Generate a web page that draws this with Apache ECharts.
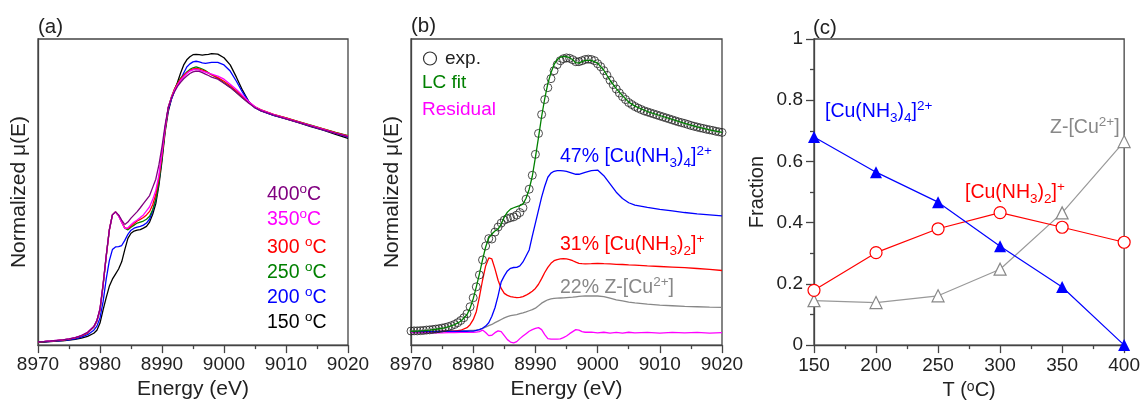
<!DOCTYPE html>
<html><head><meta charset="utf-8">
<script src="https://cdn.jsdelivr.net/npm/echarts@6/dist/echarts.min.js"></script>
<style>html,body{margin:0;padding:0;background:#fff}#c{width:1143px;height:405px}</style>
</head><body><div id="c"></div>
<script>
// ---------- shared energy grid for panel (a) curves and (b) fit/components ----------
const E_GRID = [8970,8971,8972,8973,8974,8975,8976,8977,8978,8979,
 8979.5,8980,8980.5,8981,8981.5,8982,8982.5,8983,8983.5,8984,
 8984.5,8985,8985.5,8986,8986.5,8987,8987.5,8988,8988.5,8989,
 8989.5,8990,8990.5,8991,8991.5,8992,8992.5,8993,8993.5,8994,
 8994.5,8995,8995.5,8996,8996.5,8997,8997.5,8998,8999,9000,
 9001,9002,9003,9004,9005,9006,9008,9010,9012,9014,
 9016,9018,9020];

// ---------- panel (a): temperature series ----------
const T150 = [0.000,0.002,0.004,0.006,0.008,0.011,0.015,0.021,0.030,0.045,
 0.060,0.095,0.160,0.220,0.275,0.310,0.335,0.360,0.395,0.455,
 0.510,0.535,0.546,0.550,0.553,0.560,0.569,0.590,0.628,0.680,
 0.770,0.890,1.030,1.130,1.190,1.235,1.275,1.320,1.360,1.385,
 1.400,1.410,1.412,1.410,1.408,1.410,1.412,1.415,1.413,1.395,
 1.360,1.300,1.235,1.180,1.150,1.135,1.113,1.095,1.077,1.058,
 1.040,1.020,1.000];
const T200 = [0.002,0.003,0.005,0.007,0.010,0.013,0.018,0.026,0.038,0.060,
 0.080,0.120,0.200,0.310,0.400,0.455,0.468,0.470,0.475,0.500,
 0.530,0.550,0.560,0.565,0.569,0.575,0.585,0.605,0.645,0.700,
 0.790,0.915,1.050,1.140,1.190,1.230,1.260,1.290,1.320,1.350,
 1.365,1.375,1.378,1.375,1.370,1.368,1.370,1.372,1.372,1.360,
 1.330,1.280,1.225,1.180,1.150,1.135,1.113,1.097,1.079,1.060,
 1.042,1.024,1.006];
const T250 = [0.003,0.004,0.006,0.009,0.012,0.016,0.022,0.032,0.047,0.075,
 0.105,0.160,0.280,0.420,0.550,0.625,0.640,0.622,0.590,0.560,
 0.552,0.565,0.575,0.585,0.590,0.595,0.604,0.618,0.650,0.700,
 0.785,0.905,1.040,1.150,1.200,1.240,1.270,1.295,1.310,1.325,
 1.338,1.346,1.350,1.345,1.340,1.332,1.322,1.312,1.295,1.272,
 1.250,1.225,1.198,1.175,1.153,1.138,1.117,1.100,1.082,1.065,
 1.047,1.030,1.014];
const T300 = [0.003,0.004,0.006,0.009,0.012,0.016,0.022,0.032,0.047,0.075,
 0.105,0.160,0.280,0.420,0.550,0.625,0.640,0.622,0.590,0.562,
 0.558,0.570,0.583,0.595,0.603,0.612,0.625,0.642,0.675,0.725,
 0.805,0.920,1.045,1.150,1.200,1.240,1.268,1.290,1.308,1.322,
 1.333,1.340,1.342,1.340,1.335,1.328,1.320,1.312,1.298,1.280,
 1.258,1.232,1.205,1.178,1.155,1.140,1.118,1.100,1.082,1.064,
 1.046,1.028,1.012];
const T350 = [0.004,0.005,0.007,0.010,0.013,0.017,0.024,0.034,0.050,0.078,
 0.108,0.165,0.285,0.425,0.550,0.625,0.640,0.620,0.588,0.558,
 0.562,0.577,0.590,0.600,0.612,0.625,0.645,0.665,0.700,0.745,
 0.820,0.930,1.050,1.150,1.198,1.235,1.262,1.285,1.302,1.318,
 1.330,1.336,1.338,1.335,1.330,1.325,1.320,1.315,1.305,1.290,
 1.265,1.240,1.210,1.180,1.155,1.138,1.116,1.098,1.080,1.062,
 1.044,1.026,1.010];
const T400 = [0.004,0.005,0.007,0.010,0.013,0.017,0.024,0.034,0.050,0.078,
 0.108,0.165,0.285,0.425,0.550,0.625,0.640,0.625,0.600,0.578,
 0.590,0.609,0.625,0.641,0.660,0.680,0.700,0.720,0.760,0.800,
 0.870,0.960,1.065,1.150,1.195,1.228,1.255,1.275,1.292,1.306,
 1.318,1.326,1.330,1.328,1.322,1.315,1.308,1.300,1.290,1.270,
 1.250,1.225,1.198,1.172,1.150,1.135,1.114,1.096,1.078,1.060,
 1.042,1.024,1.008];

// ---------- panel (b): LC fit ----------
const E_EXP = [8970,8970.5,8971,8971.5,8972,8972.5,8973,8973.5,8974,8974.5,
 8975,8975.5,8976,8976.5,8977,8977.5,8978,8978.5,8979,8979.5,
 8980,8980.5,8981,8981.5,8982,8982.5,8983,8983.5,8984,8984.5,
 8985,8985.5,8986,8986.5,8987,8987.5,8988,8988.5,8989,8989.5,
 8990,8990.5,8991,8991.5,8992,8992.5,8993,8993.5,8994,8994.5,
 8995,8995.5,8996,8996.5,8997,8997.5,8998,8998.5,8999,8999.5,
 9000,9000.5,9001,9001.5,9002,9002.5,9003,9003.5,9004,9004.5,
 9005,9005.5,9006,9006.5,9007,9007.5,9008,9008.5,9009,9009.5,
 9010,9010.5,9011,9011.5,9012,9012.5,9013,9013.5,9014,9014.5,
 9015,9015.5,9016,9016.5,9017,9017.5,9018,9018.5,9019,9019.5,
 9020];
const EXP_B = [0.003,0.004,0.004,0.005,0.006,0.008,0.009,0.011,0.013,0.015,
 0.018,0.021,0.025,0.030,0.036,0.045,0.056,0.070,0.090,0.125,
 0.170,0.225,0.285,0.360,0.430,0.467,0.465,0.500,0.525,0.545,
 0.560,0.567,0.572,0.576,0.585,0.598,0.622,0.665,0.715,0.785,
 0.890,0.995,1.090,1.165,1.225,1.270,1.310,1.340,1.360,1.370,
 1.374,1.372,1.365,1.355,1.355,1.360,1.366,1.368,1.366,1.360,
 1.345,1.330,1.310,1.287,1.262,1.240,1.218,1.198,1.180,1.165,
 1.150,1.140,1.130,1.122,1.115,1.108,1.103,1.098,1.093,1.088,
 1.083,1.078,1.073,1.068,1.063,1.058,1.053,1.049,1.045,1.040,
 1.035,1.031,1.027,1.023,1.020,1.016,1.013,1.010,1.006,1.003,
 1.000];
const FIT_B = [0.002,0.003,0.005,0.008,0.012,0.017,0.024,0.035,0.052,0.085,
 0.118,0.165,0.225,0.290,0.360,0.425,0.470,0.490,0.505,0.515,
 0.540,0.575,0.600,0.615,0.622,0.628,0.633,0.640,0.670,0.715,
 0.780,0.875,0.975,1.080,1.170,1.245,1.300,1.340,1.365,1.378,
 1.382,1.380,1.375,1.365,1.350,1.348,1.355,1.362,1.362,1.348,
 1.312,1.262,1.220,1.185,1.152,1.132,1.105,1.085,1.065,1.046,
 1.028,1.013,1.000];
const CU_NH34_B = [0.000,0.000,0.000,0.000,0.000,0.001,0.001,0.001,0.002,0.002,
 0.003,0.003,0.006,0.010,0.017,0.028,0.045,0.077,0.120,0.180,
 0.250,0.280,0.305,0.318,0.322,0.323,0.330,0.350,0.380,0.410,
 0.480,0.545,0.610,0.675,0.730,0.775,0.796,0.805,0.808,0.808,
 0.807,0.805,0.800,0.795,0.790,0.790,0.795,0.800,0.808,0.811,
 0.783,0.742,0.700,0.668,0.647,0.635,0.624,0.614,0.606,0.598,
 0.591,0.586,0.581];
const CU_NH32_B = [0.000,0.000,0.000,0.000,0.000,0.001,0.002,0.003,0.007,0.020,
 0.035,0.060,0.100,0.175,0.258,0.330,0.370,0.365,0.315,0.258,
 0.217,0.192,0.182,0.176,0.173,0.171,0.172,0.176,0.183,0.192,
 0.203,0.217,0.238,0.266,0.297,0.323,0.343,0.356,0.362,0.365,
 0.366,0.365,0.362,0.356,0.349,0.343,0.341,0.340,0.341,0.343,
 0.341,0.340,0.338,0.337,0.335,0.334,0.330,0.327,0.324,0.321,
 0.317,0.313,0.307];
const Z_CU_B = [0.003,0.003,0.003,0.003,0.004,0.004,0.004,0.005,0.005,0.005,
 0.006,0.006,0.008,0.010,0.016,0.023,0.030,0.036,0.045,0.053,
 0.061,0.069,0.075,0.080,0.083,0.085,0.090,0.094,0.099,0.105,
 0.111,0.118,0.130,0.143,0.152,0.160,0.164,0.167,0.168,0.169,
 0.170,0.171,0.172,0.173,0.175,0.177,0.178,0.179,0.180,0.179,
 0.176,0.168,0.160,0.154,0.148,0.144,0.138,0.133,0.130,0.127,
 0.125,0.123,0.122];
const RESID_B = [-0.005,-0.006,-0.005,-0.006,-0.005,-0.006,-0.005,-0.005,-0.004,-0.004,
 -0.003,-0.003,-0.002,0.000,0.008,-0.004,-0.020,-0.018,-0.005,0.004,
 0.000,-0.020,-0.040,-0.052,-0.056,-0.050,-0.035,-0.022,-0.010,0.002,
 0.010,0.016,0.020,0.010,-0.015,-0.035,-0.038,-0.038,-0.037,-0.036,
 -0.030,-0.022,-0.010,0.000,0.010,0.008,0.000,-0.003,-0.002,-0.006,
 -0.003,-0.007,-0.004,-0.007,-0.003,-0.006,-0.004,-0.007,-0.004,-0.006,
 -0.004,-0.007,-0.005];

// ---------- panel (c): fractions ----------
const TEMPS = [150,200,250,300,350,400];
const FRAC_CU_NH34 = [0.680,0.565,0.467,0.323,0.190,0.000];
const FRAC_CU_NH32 = [0.179,0.302,0.380,0.433,0.385,0.336];
const FRAC_Z_CU = [0.145,0.139,0.161,0.248,0.432,0.665];

const LEGEND_A = [
  {label:'{n|400}{s|o}{n|C}', color:'#800080'},
  {label:'{n|350}{s|o}{n|C}', color:'#ff00ff'},
  {label:'{n|300 }{s|o}{n|C}', color:'#ff0000'},
  {label:'{n|250 }{s|o}{n|C}', color:'#008000'},
  {label:'{n|200 }{s|o}{n|C}', color:'#0000ff'},
  {label:'{n|150 }{s|o}{n|C}', color:'#000000'}
];

const FONT = '"Liberation Sans", Arial, sans-serif';
const FS = 19.5, FSS = 13.5, FT = 21, FT_C = 20;
const RICH = {
  n:{fontFamily:FONT, fontSize:FS, lineHeight:26},
  s:{fontFamily:FONT, fontSize:FSS, lineHeight:14, verticalAlign:'top'},
  sp:{fontFamily:FONT, fontSize:FSS, lineHeight:14, verticalAlign:'top'},
  sb:{fontFamily:FONT, fontSize:FSS, lineHeight:12, verticalAlign:'bottom'}
};
const RICH_T = {
  s:{fontFamily:FONT, fontSize:14, lineHeight:14, verticalAlign:'top', color:'#222'}
};
const AX = '#444', TXT = '#222';
const plain = v => String(v);

const pairs = (xs, ys) => xs.map((x,i)=>[x, ys[i]]);

function energyAxis(gi){
  return {type:'value', gridIndex:gi, min:8970, max:9020, interval:10,
    name:'Energy (eV)', nameLocation:'middle', nameGap:30,
    nameTextStyle:{fontFamily:FONT, fontSize:FT, color:TXT},
    axisLine:{show:true, onZero:false, lineStyle:{color:AX, width:1.3}},
    axisTick:{show:true, inside:false, length:8, lineStyle:{color:AX, width:1.3}},
    minorTick:{show:true, splitNumber:2, length:4, lineStyle:{color:AX, width:1.3}},
    axisLabel:{fontFamily:FONT, fontSize:19, color:TXT, margin:10, formatter:plain},
    splitLine:{show:false}};
}
function muAxis(gi, mn, mx){
  return {type:'value', gridIndex:gi, min:mn, max:mx,
    name:'Normalized μ(E)', nameLocation:'middle', nameGap:8,
    nameTextStyle:{fontFamily:FONT, fontSize:FT, color:TXT},
    axisLine:{show:true, onZero:false, lineStyle:{color:AX, width:1.3}},
    axisTick:{show:false}, axisLabel:{show:false}, splitLine:{show:false}};
}
function lineA(name, ys, color){
  return {name, type:'line', xAxisIndex:0, yAxisIndex:0, data:pairs(E_GRID, ys),
    showSymbol:false, lineStyle:{color, width:1.3}, itemStyle:{color}, z:3};
}
function lineB(name, ys, color, z){
  return {name, type:'line', xAxisIndex:1, yAxisIndex:1, data:pairs(E_GRID, ys),
    showSymbol:false, lineStyle:{color, width:1.3}, itemStyle:{color}, z:z||3};
}
function txt(x, y, text, color, fs){
  return {type:'text', x, y, silent:true, z:10,
    style:{text, fill:color, fontFamily:FONT, fontSize:fs||FS, align:'left', verticalAlign:'middle', rich:RICH}};
}

const graphics = [
  txt(38, 27, '(a)', TXT, 20.5),
  txt(411, 26, '(b)', TXT, 20.5),
  txt(813, 28, '(c)', TXT, 20.5),
  {type:'circle', shape:{cx:430, cy:58.5, r:6.5}, style:{fill:'none', stroke:'#333', lineWidth:1.2}, z:10},
  txt(445, 59, 'exp.', TXT, 19),
  txt(422, 83, 'LC fit', '#008000', 19),
  txt(422, 110, 'Residual', '#ff00ff', 19),
  txt(560, 157, '{n|47% [Cu(NH}{sb|3}{n|)}{sb|4}{n|]}{sp|2+}', '#0000ff'),
  txt(560, 245, '{n|31% [Cu(NH}{sb|3}{n|)}{sb|2}{n|]}{sp|+}', '#ff0000'),
  txt(560, 288, '{n|22% Z-[Cu}{sp|2+}{n|]}', '#888888'),
  txt(825, 112, '{n|[Cu(NH}{sb|3}{n|)}{sb|4}{n|]}{sp|2+}', '#0000ff'),
  txt(1050, 128, '{n|Z-[Cu}{sp|2+}{n|]}', '#888888'),
  txt(965, 193, '{n|[Cu(NH}{sb|3}{n|)}{sb|2}{n|]}{sp|+}', '#ff0000')
];
const legendY = [195, 220, 248, 273, 298, 323];
LEGEND_A.forEach((l,i)=>graphics.push(txt(267, legendY[i], l.label, l.color)));

const option = {
  backgroundColor:'#fff', animation:false,
  textStyle:{fontFamily:FONT},
  grid:[
    {left:38, top:39, width:310, height:312, show:true, borderColor:AX, borderWidth:1.3, backgroundColor:'transparent'},
    {left:411, top:39, width:311, height:312, show:true, borderColor:AX, borderWidth:1.3, backgroundColor:'transparent'},
    {left:814, top:39, width:314, height:314, show:true, borderColor:AX, borderWidth:1.3, backgroundColor:'transparent'}
  ],
  xAxis:[
    energyAxis(0), energyAxis(1),
    {type:'value', gridIndex:2, min:150, max:400, interval:50,
     name:'T ({s|o}C)', nameLocation:'middle', nameGap:30,
     nameTextStyle:{fontFamily:FONT, fontSize:FT_C, color:TXT, rich:RICH_T},
     axisLine:{show:true, onZero:false, lineStyle:{color:AX, width:1.3}},
     axisTick:{show:true, inside:false, length:8, lineStyle:{color:AX, width:1.3}},
     minorTick:{show:true, splitNumber:2, length:4, lineStyle:{color:AX, width:1.3}},
     axisLabel:{fontFamily:FONT, fontSize:19, color:TXT, margin:11, formatter:plain},
     splitLine:{show:false}}
  ],
  yAxis:[
    muAxis(0, -0.013, 1.487), muAxis(1, -0.0675, 1.469),
    {type:'value', gridIndex:2, min:0, max:1, interval:0.2,
     name:'Fraction', nameLocation:'middle', nameGap:47,
     nameTextStyle:{fontFamily:FONT, fontSize:FT_C, color:TXT},
     axisLine:{show:true, onZero:false, lineStyle:{color:AX, width:1.3}},
     axisTick:{show:true, inside:false, length:8, lineStyle:{color:AX, width:1.3}},
     minorTick:{show:true, splitNumber:2, length:4, lineStyle:{color:AX, width:1.3}},
     axisLabel:{fontFamily:FONT, fontSize:19, color:TXT, margin:11, formatter:plain},
     splitLine:{show:false}}
  ],
  graphic: graphics,
  series:[
    lineA('150 °C', T150, '#000000'),
    lineA('200 °C', T200, '#0000ff'),
    lineA('250 °C', T250, '#008000'),
    lineA('300 °C', T300, '#ff0000'),
    lineA('350 °C', T350, '#ff00ff'),
    lineA('400 °C', T400, '#800080'),
    lineB('Residual', RESID_B, '#ff00ff'),
    lineB('Z-[Cu2+]', Z_CU_B, '#888888'),
    lineB('[Cu(NH3)2]+', CU_NH32_B, '#ff0000'),
    lineB('[Cu(NH3)4]2+', CU_NH34_B, '#0000ff'),
    {name:'exp.', type:'scatter', xAxisIndex:1, yAxisIndex:1, data:pairs(E_EXP, EXP_B),
     symbol:'circle', symbolSize:8, itemStyle:{color:'rgba(255,255,255,0)', borderColor:'#222', borderWidth:1}, z:4},
    lineB('LC fit', FIT_B, '#008000', 5),
    {name:'Z-[Cu2+] fraction', type:'line', xAxisIndex:2, yAxisIndex:2, data:pairs(TEMPS, FRAC_Z_CU),
     symbol:'triangle', symbolSize:12, showSymbol:true, lineStyle:{color:'#999999', width:1.2},
     itemStyle:{color:'#ffffff', borderColor:'#888888', borderWidth:1.2}, clip:false, z:3},
    {name:'[Cu(NH3)2]+ fraction', type:'line', xAxisIndex:2, yAxisIndex:2, data:pairs(TEMPS, FRAC_CU_NH32),
     symbol:'circle', symbolSize:12, showSymbol:true, lineStyle:{color:'#ff0000', width:1.2},
     itemStyle:{color:'#ffffff', borderColor:'#ff0000', borderWidth:1.2}, clip:false, z:4},
    {name:'[Cu(NH3)4]2+ fraction', type:'line', xAxisIndex:2, yAxisIndex:2, data:pairs(TEMPS, FRAC_CU_NH34),
     symbol:'triangle', symbolSize:12, showSymbol:true, lineStyle:{color:'#0000ff', width:1.2},
     itemStyle:{color:'#0000ff'}, clip:false, z:5}
  ]
};
const chart = echarts.init(document.getElementById('c'), null, {renderer:'canvas'});
chart.setOption(option);
</script></body></html>
